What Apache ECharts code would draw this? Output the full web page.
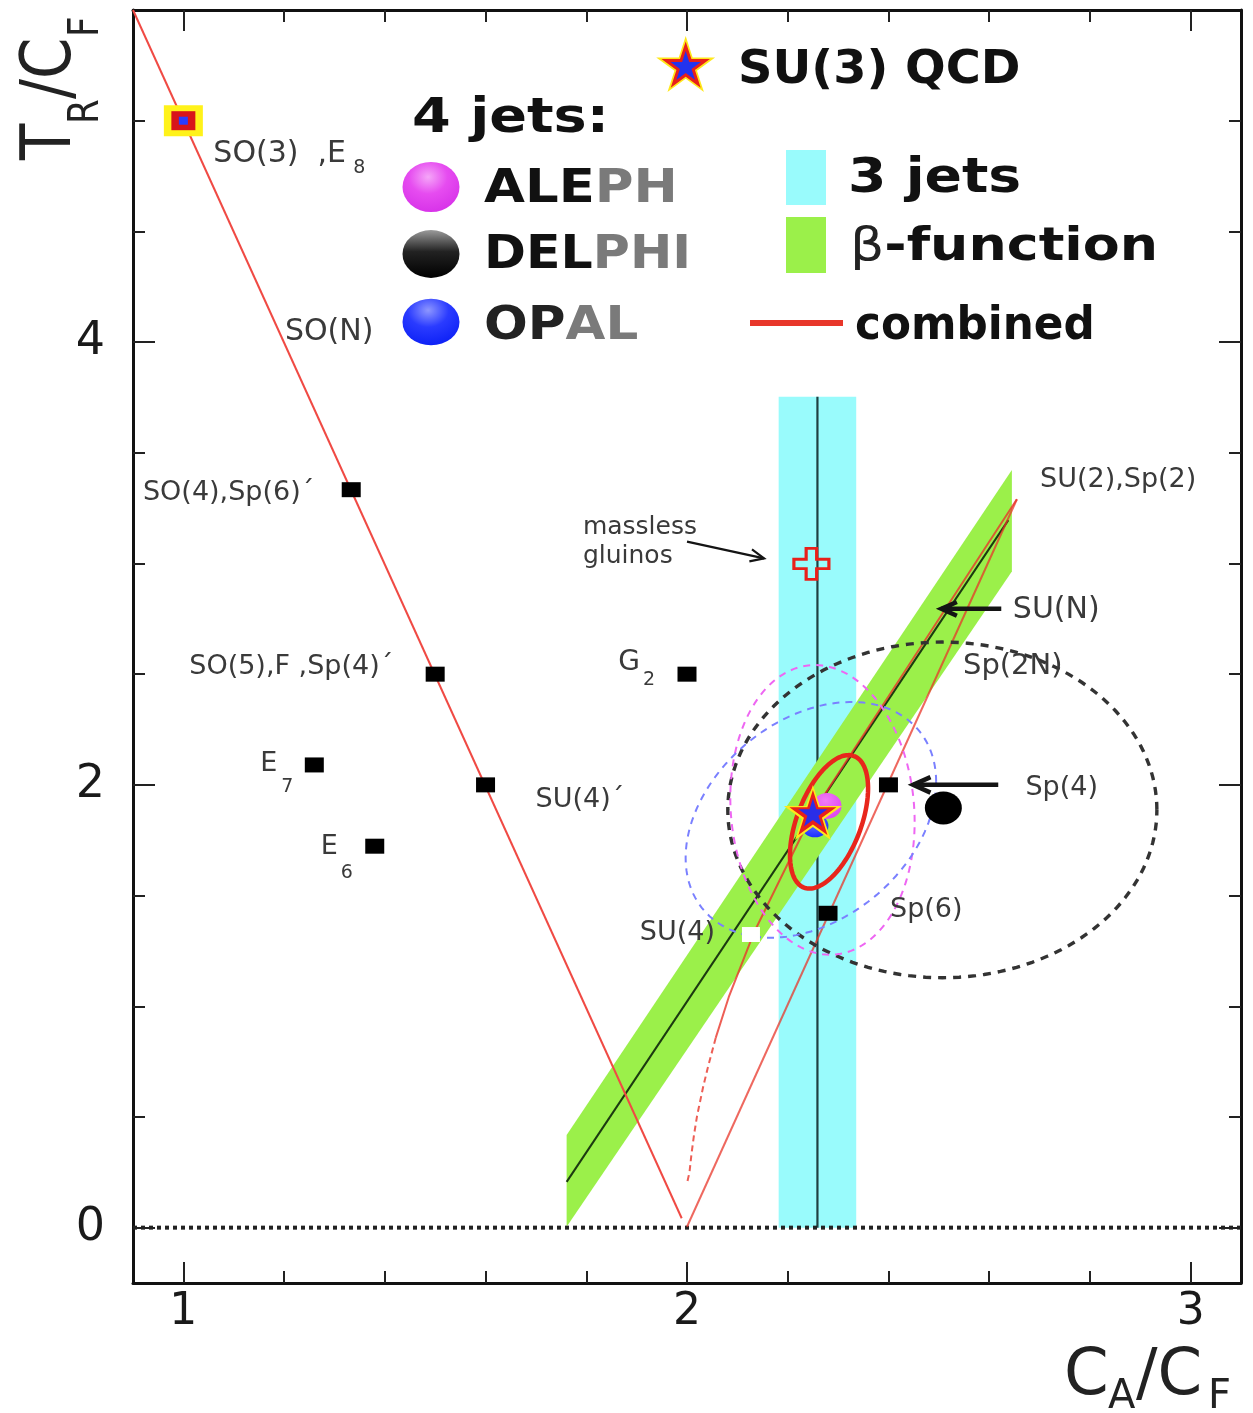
<!DOCTYPE html>
<html>
<head>
<meta charset="utf-8">
<script src="https://cdn.jsdelivr.net/npm/echarts@6.0.0/dist/echarts.min.js"></script>
<style>
html,body{margin:0;padding:0;background:#ffffff;}
#chart{width:1253px;height:1413px;}
</style>
</head>
<body>
<div id="chart"></div>
<script>
// ---------------- data ----------------
const xTickMajor = [1, 2, 3];
const xTickMinor = [1.2, 1.4, 1.6, 1.8, 2.2, 2.4, 2.6, 2.8];
const yTickMajor = [0, 2, 4];
const yTickMinor = [0.5, 1, 1.5, 2.5, 3, 3.5, 4.5, 5];

// gauge groups drawn as black squares (C_A/C_F , T_R/C_F)
const groupCA = [1.3333, 1.5, 1.6, 1.26, 1.38, 2.0, 2.4, 2.28];
const groupTR = [3.3333, 2.5, 2.0, 2.09, 1.723, 2.5, 2.0, 1.42];
const so3CA = [1.0],  so3TR = [5.0];
const su4CA = [2.127], su4TR = [1.324];
const gluinoCA = [2.247], gluinoTR = [2.998];
const su3CA = [2.25], su3TR = [1.875];
const alephCA = [2.278], alephTR = [1.905];
const opalCA = [2.254], opalTR = [1.815];
const delphiCA = [2.509], delphiTR = [1.896];

// lines
const soLineCA = [0.9, 1.9895],  soLineTR = [5.5, 0.0425];
const spLineCA = [2.655, 2.0],   spLineTR = [3.29, 0.004];
const suSolidCA = [2.655, 2.25, 2.133, 2.083, 2.057];
const suSolidTR = [3.29, 1.875, 1.333, 1.042, 0.857];
const suDashCA = [2.057, 2.042, 2.032, 2.020, 2.014, 2.009, 2.005, 2.0];
const suDashTR = [0.857, 0.729, 0.635, 0.505, 0.420, 0.335, 0.251, 0.2];
const zeroCA = [0.9, 3.1], zeroTR = [0, 0];

// bands
const jet3Band = [2.182, 0, 2.336, 3.753];
const jet3LineCA = [2.259, 2.259], jet3LineTR = [0, 3.753];
const betaBandCA = [1.761, 1.761, 2.645, 2.645];
const betaBandTR = [0.004, 0.418, 3.422, 2.964];
const betaLineCA = [1.761, 2.638], betaLineTR = [0.207, 3.196];

// confidence contours: centre (CA,TR) and two conjugate half-axis vectors
const contourNames = ['DELPHI', 'ALEPH', 'OPAL'];
const contourCA = [2.507, 2.269, 2.246];
const contourTR = [1.887, 1.887, 1.842];
const contourU = [[0.426, 0.0], [0.183, -0.054], [0.2487, 0.1716]];
const contourV = [[0.0, 0.758], [0.0, 0.652], [0.0, 0.504]];
const combinedC = [2.282, 1.833];
const combinedU = [0.0497, 0.297];
const combinedV = [0.0595, -0.0515];

// arrows: from (CA,TR) to (CA,TR)
const arrowFromCA = [2.624, 2.618, 2.0];
const arrowFromTR = [2.795, 2.0, 3.099];
const arrowToCA = [2.505, 2.449, 2.153];
const arrowToTR = [2.795, 2.0, 3.023];

// text labels and their anchor points
const labelTexts = ['SO(3)  ,E', '8', 'SO(N)', 'SO(4),Sp(6)´', 'SO(5),F ,Sp(4)´', 'SU(4)´',
  'E', '7', 'E', '6', 'G', '2', 'SU(2),Sp(2)', 'SU(N)', 'Sp(2N)', 'Sp(4)', 'Sp(6)', 'SU(4)',
  'massless', 'gluinos'];
const labelCA = [1.0, 1.0, 1.2017, 1.3333, 1.5, 1.6, 1.26, 1.26, 1.38, 1.38, 2.0, 2.0,
  2.701, 2.647, 2.548, 2.4, 2.28, 2.127, 1.7933, 1.7933];
const labelTR = [5.0, 5.0, 4.045, 3.3333, 2.5, 2.0, 2.09, 2.09, 1.723, 1.723, 2.5, 2.5,
  3.378, 2.79, 2.533, 2.0, 1.42, 1.324, 3.162, 3.031];

// ---------------- layout / style (pixels) ----------------
const FF = 'DejaVu Sans, Verdana, sans-serif';
// [dx, dy, fontSize, align]
const labelLayout = [
  [30, 34, 30, 'left'], [176, 47, 19, 'center'], [0, 0, 30, 'left'],
  [-37, 3, 27, 'right'], [-42, -7, 27, 'right'], [50, 15, 27, 'left'],
  [-37, -1, 27, 'right'], [-27, 22, 19, 'center'], [-37, 1, 27, 'right'], [-28, 27, 19, 'center'],
  [-47, -11, 28, 'right'], [-38, 6, 19, 'center'],
  [0, 0, 27, 'left'], [0, 0, 30, 'left'], [0, 0, 29, 'left'],
  [137, 3, 27, 'left'], [62, -3, 27, 'left'], [-36, -2, 27, 'right'],
  [0, 0, 25, 'left'], [0, 0, 25, 'left']
];
const arrowStyle = [[4.5, 17], [4.5, 19], [2.2, 15]];
const contourStyle = [
  {stroke: '#333333', lineWidth: 3.4, lineDash: [8, 7]},
  {stroke: '#ee66f2', lineWidth: 2, lineDash: [7, 6]},
  {stroke: '#7a80ff', lineWidth: 2, lineDash: [7, 6]}
];
const RED = '#e8362a';
const STAR = 'path://M50,0 L61.23,34.55 L97.55,34.55 L68.17,55.9 L79.39,90.45 L50,69.1 L20.61,90.45 L31.83,55.9 L2.45,34.55 L38.77,34.55 Z';
const CROSS = 'path://M7,0 L13,0 L13,7 L20,7 L20,13 L13,13 L13,20 L7,20 L7,13 L0,13 L0,7 L7,7 Z';

const zip = (a, b) => a.map((v, i) => [v, b[i]]);

const gridRect = {left: 133, top: 10, width: 1108, height: 1273, containLabel: false};

function xAxisDef(grid, pos, ticks, len, line, labels) {
  return {
    type: 'value', gridIndex: grid, min: 0.9, max: 3.1, position: pos,
    axisLine: {show: line, onZero: false, lineStyle: {color: '#111', width: 3}},
    axisTick: {show: true, inside: true, length: len, customValues: ticks, lineStyle: {color: '#222', width: 2}},
    axisLabel: labels ? {show: true, customValues: labels, fontSize: 44, color: '#1a1a1a', fontFamily: FF, margin: 8, formatter: v => String(v)} : {show: false},
    splitLine: {show: false}
  };
}
function yAxisDef(grid, pos, ticks, len, line, labels) {
  return {
    type: 'value', gridIndex: grid, min: -0.25, max: 5.5, position: pos,
    axisLine: {show: line, onZero: false, lineStyle: {color: '#111', width: 3}},
    axisTick: {show: true, inside: true, length: len, customValues: ticks, lineStyle: {color: '#222', width: 2}},
    axisLabel: labels ? {show: true, customValues: labels, fontSize: 46, color: '#1a1a1a', fontFamily: FF, margin: 28, formatter: v => String(v)} : {show: false},
    splitLine: {show: false}
  };
}

function starPts(cx, cy, R) {
  const pts = [];
  for (let k = 0; k < 10; k++) {
    const a = -Math.PI / 2 + k * Math.PI / 5;
    const rr = (k % 2 === 0) ? R : R * 0.382;
    pts.push([cx + rr * Math.cos(a), cy + rr * Math.sin(a)]);
  }
  return pts;
}

function lineSeries(data, color, width, type, opacity) {
  return {type: 'line', xAxisIndex: 0, yAxisIndex: 0, data: data, showSymbol: false, symbol: 'none',
    lineStyle: {color: color, width: width, type: type || 'solid', opacity: opacity == null ? 1 : opacity},
    silent: true, z: 3};
}
function scatterSeries(data, symbol, size, itemStyle, z) {
  return {type: 'scatter', xAxisIndex: 0, yAxisIndex: 0, data: data, symbol: symbol, symbolSize: size,
    symbolKeepAspect: false, itemStyle: Object.assign({opacity: 1}, itemStyle), silent: true, z: z || 5};
}

const legendTextStyle = (size) => ({fontSize: size, fontWeight: 'bold', fontFamily: FF, fill: '#111', verticalAlign: 'middle', align: 'left'});

const graphics = [
  // legend: SU(3) QCD
  {type: 'polygon', shape: {points: starPts(685.7, 67, 31)}, style: {fill: '#ffe81a'}, z: 100},
  {type: 'polygon', shape: {points: starPts(685.7, 67, 25.5)}, style: {fill: '#e8201a'}, z: 101},
  {type: 'polygon', shape: {points: starPts(685.7, 67, 16)}, style: {fill: '#2233ee'}, z: 102},
  {type: 'text', x: 738, y: 71, style: Object.assign(legendTextStyle(46), {text: 'SU(3) QCD'}), scaleX: 1.04, z: 100},
  {type: 'text', x: 412, y: 120, style: Object.assign(legendTextStyle(48), {text: '4 jets:'}), scaleX: 1.16, z: 100},
  // 4 jet markers
  {type: 'circle', x: 431, y: 187, shape: {cx: 0, cy: 0, r: 28.5}, scaleY: 0.88, z: 100,
    style: {fill: new echarts.graphic.RadialGradient(0.45, 0.3, 0.75, [{offset: 0, color: '#f5a6f8'}, {offset: 0.45, color: '#e64cf0'}, {offset: 1, color: '#d630e8'}])}},
  {type: 'circle', x: 431, y: 254, shape: {cx: 0, cy: 0, r: 28.5}, scaleY: 0.84, z: 100,
    style: {fill: new echarts.graphic.LinearGradient(0, 0, 0, 1, [{offset: 0, color: '#9a9a9a'}, {offset: 0.45, color: '#222'}, {offset: 1, color: '#000'}])}},
  {type: 'circle', x: 431, y: 322, shape: {cx: 0, cy: 0, r: 28.5}, scaleY: 0.82, z: 100,
    style: {fill: new echarts.graphic.RadialGradient(0.45, 0.25, 0.8, [{offset: 0, color: '#8d96ff'}, {offset: 0.45, color: '#2a3bff'}, {offset: 1, color: '#0a1ef5'}])}},
  {type: 'text', x: 484, y: 190, scaleX: 1.15, z: 100, style: {text: '{a|ALE}{b|PH}', verticalAlign: 'middle', align: 'left',
    rich: {a: {fontSize: 46, fontWeight: 'bold', fontFamily: FF, fill: '#111'}, b: {fontSize: 46, fontWeight: 'bold', fontFamily: FF, fill: '#7a7a7a'}}}},
  {type: 'text', x: 484, y: 256, scaleX: 1.1, z: 100, style: {text: '{a|DEL}{b|PHI}', verticalAlign: 'middle', align: 'left',
    rich: {a: {fontSize: 46, fontWeight: 'bold', fontFamily: FF, fill: '#111'}, b: {fontSize: 46, fontWeight: 'bold', fontFamily: FF, fill: '#7a7a7a'}}}},
  {type: 'text', x: 484, y: 327, scaleX: 1.12, z: 100, style: {text: '{a|OP}{b|AL}', verticalAlign: 'middle', align: 'left',
    rich: {a: {fontSize: 46, fontWeight: 'bold', fontFamily: FF, fill: '#222'}, b: {fontSize: 46, fontWeight: 'bold', fontFamily: FF, fill: '#7a7a7a'}}}},
  // 3 jets / beta-function / combined
  {type: 'rect', shape: {x: 786, y: 150, width: 40, height: 55}, style: {fill: '#99fbfc'}, z: 100},
  {type: 'rect', shape: {x: 786, y: 217, width: 40, height: 56}, style: {fill: '#9bf04a'}, z: 100},
  {type: 'line', shape: {x1: 750, y1: 323, x2: 843, y2: 323}, style: {stroke: RED, lineWidth: 6}, z: 100},
  {type: 'text', x: 848, y: 180, scaleX: 1.15, style: Object.assign(legendTextStyle(48), {text: '3 jets'}), z: 100},
  {type: 'text', x: 850, y: 248, scaleX: 1.17, z: 100, style: {text: '{g|β}{a|-function}', verticalAlign: 'middle', align: 'left',
    rich: {g: {fontSize: 46, fontFamily: FF, fill: '#222'}, a: {fontSize: 46, fontWeight: 'bold', fontFamily: FF, fill: '#111'}}}},
  {type: 'text', x: 855, y: 327, scaleX: 0.95, style: Object.assign(legendTextStyle(46), {text: 'combined'}), z: 100},
  // axis title T_R/C_F (rotated)
  {type: 'text', x: 52, y: 160, rotation: Math.PI / 2, scaleX: 0.85, style: {text: 'T', fontSize: 70, fontFamily: FF, fill: '#222', align: 'left', verticalAlign: 'middle'}, z: 100},
  {type: 'text', x: 87, y: 124, rotation: Math.PI / 2, scaleX: 0.85, style: {text: 'R', fontSize: 42, fontFamily: FF, fill: '#222', align: 'left', verticalAlign: 'middle'}, z: 100},
  {type: 'text', x: 52, y: 99, rotation: Math.PI / 2, scaleX: 0.85, style: {text: '/C', fontSize: 70, fontFamily: FF, fill: '#222', align: 'left', verticalAlign: 'middle'}, z: 100},
  {type: 'text', x: 87, y: 37, rotation: Math.PI / 2, scaleX: 0.85, style: {text: 'F', fontSize: 42, fontFamily: FF, fill: '#222', align: 'left', verticalAlign: 'middle'}, z: 100},
  // axis title C_A/C_F
  {type: 'text', x: 1064, y: 1377, style: {text: 'C', fontSize: 64, fontFamily: FF, fill: '#222', align: 'left', verticalAlign: 'middle'}, z: 100},
  {type: 'text', x: 1108, y: 1398, style: {text: 'A', fontSize: 40, fontFamily: FF, fill: '#222', align: 'left', verticalAlign: 'middle'}, z: 100},
  {type: 'text', x: 1136, y: 1377, style: {text: '/C', fontSize: 64, fontFamily: FF, fill: '#222', align: 'left', verticalAlign: 'middle'}, z: 100},
  {type: 'text', x: 1208, y: 1398, style: {text: 'F', fontSize: 40, fontFamily: FF, fill: '#222', align: 'left', verticalAlign: 'middle'}, z: 100}
];

const contourRows = contourCA.map((c, i) => [c, contourTR[i], contourU[i][0], contourU[i][1], contourV[i][0], contourV[i][1]]);
const combinedRows = [[combinedC[0], combinedC[1], combinedU[0], combinedU[1], combinedV[0], combinedV[1]]];

function ellipseRender(styles) {
  return function (params, api) {
    const cx = api.value(0), cy = api.value(1), ux = api.value(2), uy = api.value(3), vx = api.value(4), vy = api.value(5);
    const pts = [];
    const n = 160;
    for (let k = 0; k <= n; k++) {
      const t = k / n * 2 * Math.PI;
      pts.push(api.coord([cx + ux * Math.cos(t) + vx * Math.sin(t), cy + uy * Math.cos(t) + vy * Math.sin(t)]));
    }
    const st = styles[params.dataIndex];
    return {type: 'polyline', shape: {points: pts}, style: {stroke: st.stroke, lineWidth: st.lineWidth, lineDash: st.lineDash, fill: null}};
  };
}

const option = {
  animation: false,
  backgroundColor: '#ffffff',
  grid: [Object.assign({}, gridRect), Object.assign({}, gridRect)],
  xAxis: [
    xAxisDef(0, 'bottom', xTickMajor, 21, true, xTickMajor),
    xAxisDef(0, 'top', xTickMajor, 21, true, null),
    xAxisDef(1, 'bottom', xTickMinor, 12, false, null),
    xAxisDef(1, 'top', xTickMinor, 12, false, null)
  ],
  yAxis: [
    yAxisDef(0, 'left', yTickMajor, 22, true, yTickMajor),
    yAxisDef(0, 'right', yTickMajor, 22, true, null),
    yAxisDef(1, 'left', yTickMinor, 12, false, null),
    yAxisDef(1, 'right', yTickMinor, 12, false, null)
  ],
  graphic: graphics,
  series: [
    // 3 jet band
    {type: 'custom', xAxisIndex: 0, yAxisIndex: 0, data: [jet3Band], encode: {x: [0, 2], y: [1, 3]}, z: 1, silent: true,
      renderItem: (params, api) => {
        const p0 = api.coord([api.value(0), api.value(3)]);
        const p1 = api.coord([api.value(2), api.value(1)]);
        return {type: 'rect', shape: {x: p0[0], y: p0[1], width: p1[0] - p0[0], height: p1[1] - p0[1]}, style: {fill: '#99fbfc'}};
      }},
    Object.assign(lineSeries(zip(jet3LineCA, jet3LineTR), '#1f3f40', 2.2), {z: 1}),
    // beta-function band
    {type: 'custom', xAxisIndex: 0, yAxisIndex: 0, data: zip(betaBandCA, betaBandTR), encode: {x: 0, y: 1}, z: 2, silent: true,
      renderItem: (params, api) => {
        if (params.dataIndex !== 0) return null;
        const pts = betaBandCA.map((x, i) => api.coord([x, betaBandTR[i]]));
        return {type: 'polygon', shape: {points: pts}, style: {fill: '#9bf04a'}};
      }},
    Object.assign(lineSeries(zip(betaLineCA, betaLineTR), '#1c3a10', 2), {z: 2}),
    // zero line
    lineSeries(zip(zeroCA, zeroTR), '#222', 4, [4, 4]),
    // group family lines
    lineSeries(zip(soLineCA, soLineTR), '#f04a44', 2),
    lineSeries(zip(spLineCA, spLineTR), RED, 2, 'solid', 0.75),
    lineSeries(zip(suSolidCA, suSolidTR), RED, 2, 'solid', 0.8),
    lineSeries(zip(suDashCA, suDashTR), RED, 2, [6, 4], 0.8),
    // 4-jet contours
    {type: 'custom', xAxisIndex: 0, yAxisIndex: 0, data: contourRows, encode: {x: 0, y: 1}, z: 4, silent: true,
      renderItem: ellipseRender(contourStyle)},
    {type: 'custom', xAxisIndex: 0, yAxisIndex: 0, data: combinedRows, encode: {x: 0, y: 1}, z: 4, silent: true,
      renderItem: ellipseRender([{stroke: '#e8261c', lineWidth: 4.5, lineDash: null}])},
    // markers
    scatterSeries(zip(groupCA, groupTR), 'rect', [19, 15], {color: '#000'}),
    scatterSeries(zip(so3CA, so3TR), 'rect', [39, 31], {color: '#fff21a'}),
    scatterSeries(zip(so3CA, so3TR), 'rect', [24, 19], {color: '#d8141a'}, 6),
    scatterSeries(zip(so3CA, so3TR), 'rect', [9, 8], {color: '#2a3cff'}, 7),
    scatterSeries(zip(su4CA, su4TR), 'rect', [18, 15], {color: '#ffffff'}),
    scatterSeries(zip(gluinoCA, gluinoTR), CROSS, [35, 31], {color: 'rgba(0,0,0,0)', borderColor: '#e8201a', borderWidth: 3}),
    scatterSeries(zip(opalCA, opalTR), 'circle', [27, 23], {color: {type: 'radial', x: 0.45, y: 0.3, r: 0.8, colorStops: [{offset: 0, color: '#6d7bff'}, {offset: 1, color: '#1024ff'}]}}, 6),
    scatterSeries(zip(alephCA, alephTR), 'circle', [29, 26], {color: {type: 'radial', x: 0.45, y: 0.3, r: 0.8, colorStops: [{offset: 0, color: '#f07cf6'}, {offset: 1, color: '#dc3cf0'}]}}, 6),
    scatterSeries(zip(delphiCA, delphiTR), 'circle', [37, 33], {color: '#000'}, 6),
    scatterSeries(zip(su3CA, su3TR), STAR, [58, 55], {color: '#ffe81a'}, 8),
    scatterSeries(zip(su3CA, su3TR), STAR, [47, 45], {color: '#e8201a'}, 9),
    scatterSeries(zip(su3CA, su3TR), STAR, [29, 28], {color: '#2a2ee8'}, 10),
    // arrows
    {type: 'custom', xAxisIndex: 0, yAxisIndex: 0, silent: true, z: 11,
      data: arrowFromCA.map((x, i) => [x, arrowFromTR[i], arrowToCA[i], arrowToTR[i]]), encode: {x: [0, 2], y: [1, 3]},
      renderItem: (params, api) => {
        const p0 = api.coord([api.value(0), api.value(1)]);
        const p1 = api.coord([api.value(2), api.value(3)]);
        const st = arrowStyle[params.dataIndex];
        const ang = Math.atan2(p1[1] - p0[1], p1[0] - p0[0]);
        const a1 = ang + Math.PI - 0.42, a2 = ang + Math.PI + 0.42;
        const h = st[1];
        return {type: 'group', children: [
          {type: 'line', shape: {x1: p0[0], y1: p0[1], x2: p1[0], y2: p1[1]}, style: {stroke: '#141414', lineWidth: st[0]}},
          {type: 'polyline', shape: {points: [[p1[0] + h * Math.cos(a1), p1[1] + h * Math.sin(a1)], [p1[0], p1[1]], [p1[0] + h * Math.cos(a2), p1[1] + h * Math.sin(a2)]]},
            style: {stroke: '#141414', lineWidth: st[0], fill: null, lineJoin: 'miter'}}
        ]};
      }},
    // labels
    {type: 'custom', xAxisIndex: 0, yAxisIndex: 0, silent: true, z: 12,
      data: zip(labelCA, labelTR), encode: {x: 0, y: 1},
      renderItem: (params, api) => {
        const L = labelLayout[params.dataIndex];
        const p = api.coord([api.value(0), api.value(1)]);
        return {type: 'text', x: p[0] + L[0], y: p[1] + L[1],
          style: {text: labelTexts[params.dataIndex], fontSize: L[2], fontFamily: FF, fill: '#3a3a3a', align: L[3], verticalAlign: 'middle'}};
      }}
  ]
};

const chart = echarts.init(document.getElementById('chart'), null, {renderer: 'canvas', width: 1253, height: 1413});
chart.setOption(option);
</script>
</body>
</html>
